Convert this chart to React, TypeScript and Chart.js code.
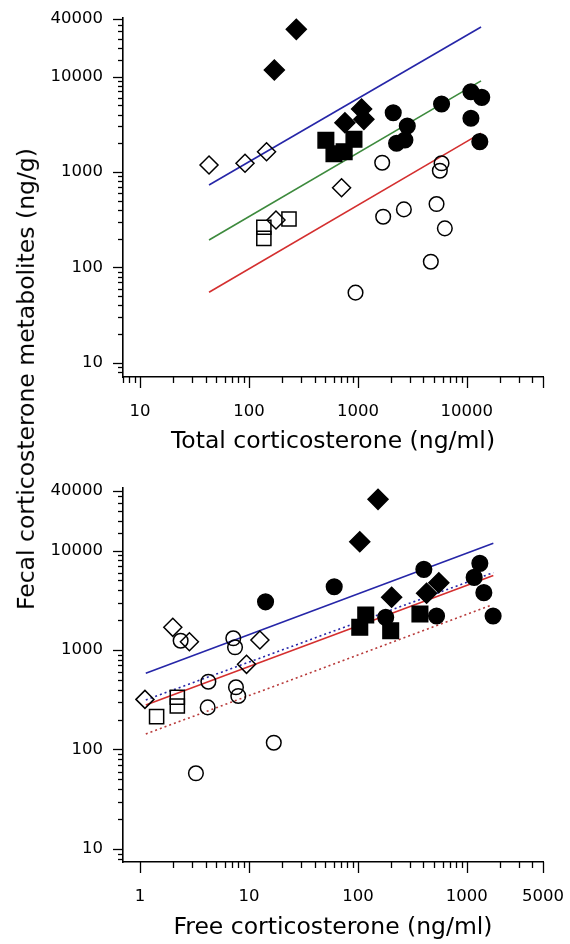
import React, { useEffect, useRef } from 'react';
import { Chart, registerables } from 'chart.js';

Chart.register(...registerables);

// ---------- Top panel: Total corticosterone ----------
const totalOpenDiamondX = [43, 92, 145, 177, 708];
const totalOpenDiamondY = [1184, 1233, 1632, 314, 685];
const totalOpenSquareX = [137, 137, 233];
const totalOpenSquareY = [264, 202, 322];
const totalOpenCircleX = [1671, 5860, 5650, 1706, 2643, 5270, 6280, 4670, 951];
const totalOpenCircleY = [1251, 1233, 1032, 340, 406, 462, 257, 115, 54.5];
const totalFilledDiamondX = [272, 171, 760, 1081, 1135];
const totalFilledDiamondY = [31200, 11700, 3280, 4570, 3560];
const totalFilledSquareX = [508, 603, 748, 920];
const totalFilledSquareY = [2150, 1550, 1633, 2200];
const totalFilledCircleX = [2110, 2840, 2265, 2700, 5860, 10900, 13700, 10900, 13150];
const totalFilledCircleY = [4180, 3030, 2000, 2163, 5150, 6930, 6050, 3650, 2080];
const totalLineX = [43, 13500];
const totalBlueY = [730, 33000];
const totalGreenY = [194, 9000];
const totalRedY = [55, 2550];

// ---------- Bottom panel: Free corticosterone ----------
const freeOpenDiamondX = [1.11, 2.0, 2.84, 12.6, 9.5];
const freeOpenDiamondY = [319, 1690, 1212, 1260, 718];
const freeOpenSquareX = [2.2, 2.2, 1.42];
const freeOpenSquareY = [335, 274, 214];
const freeOpenCircleX = [2.36, 7.18, 7.45, 4.24, 7.6, 7.98, 4.18, 16.9, 3.26];
const freeOpenCircleY = [1240, 1312, 1065, 480, 422, 345, 265, 117, 57.7];
const freeFilledDiamondX = [153, 104, 204, 427, 553];
const freeFilledDiamondY = [32700, 12250, 3390, 3720, 4740];
const freeFilledSquareX = [118, 104, 200, 371];
const freeFilledSquareY = [2250, 1690, 1563, 2300];
const freeFilledCircleX = [14.2, 60.6, 403, 180, 527, 1316, 1167, 1432, 1742];
const freeFilledCircleY = [3050, 4330, 6470, 2130, 2200, 7430, 5370, 3770, 2200];
const freeLineX = [1.13, 1750];
const freeBlueSolidY = [583, 11800];
const freeBlueDottedY = [315, 6000];
const freeRedSolidY = [280, 5600];
const freeRedDottedX = [1.13, 1650];
const freeRedDottedY = [143, 2800];

// ---------- Tick labels ----------
const totalXTickLabels = [10, 100, 1000, 10000];
const freeXTickLabels = [1, 10, 100, 1000, 5000];
const yTickLabels = [10, 100, 1000, 10000, 40000];

const FONT = "'DejaVu Sans', sans-serif";
const TICK_SIZE = 16.5;
const TITLE_SIZE = 23.5;

function decadeMinors(lo: number, hi: number): number[] {
  const out: number[] = [];
  for (let d = lo; d < hi; d *= 10) {
    for (let k = 2; k <= 9; k++) out.push(k * d);
  }
  return out;
}

const yMinor = [...decadeMinors(1, 10000), 15000, 20000, 25000, 30000, 35000];
const totalXMajor = [10, 100, 1000, 10000, 50000];
const totalXMinor = [...decadeMinors(1, 10000), 20000, 30000, 40000];
const freeXMajor = [1, 10, 100, 1000, 5000];
const freeXMinor = [...decadeMinors(1, 1000), 2000, 3000, 4000];

const pts = (xs: number[], ys: number[]) => xs.map((x, i) => ({ x, y: ys[i] }));

function markers(xs: number[], ys: number[], style: string, r: number, filled: boolean) {
  return {
    data: pts(xs, ys),
    pointStyle: style,
    pointRadius: r,
    pointBackgroundColor: filled ? '#000' : 'rgba(0,0,0,0)',
    pointBorderColor: '#000',
    pointBorderWidth: 1.5,
    showLine: false,
    order: 1,
  };
}

function line(xs: number[], ys: number[], color: string, dash: number[] = []) {
  return {
    data: pts(xs, ys),
    borderColor: color,
    borderWidth: 1.6,
    borderDash: dash,
    pointRadius: 0,
    showLine: true,
    fill: false,
    order: 2,
  };
}

const tickPlugin = {
  id: 'logTicks',
  afterDraw(chart: any, _args: any, opts: any) {
    const { ctx, chartArea, scales } = chart;
    const xs = scales.x;
    const ys = scales.y;
    ctx.save();
    ctx.strokeStyle = '#000';
    ctx.lineWidth = 1.3;
    const drawX = (vals: number[], len: number) => {
      for (const v of vals) {
        if (v < xs.min || v > xs.max) continue;
        const px = Math.round(xs.getPixelForValue(v)) + 0.5;
        ctx.beginPath();
        ctx.moveTo(px, chartArea.bottom);
        ctx.lineTo(px, chartArea.bottom + len);
        ctx.stroke();
      }
    };
    const drawY = (vals: number[], len: number) => {
      for (const v of vals) {
        if (v < ys.min || v > ys.max) continue;
        const py = Math.round(ys.getPixelForValue(v)) + 0.5;
        ctx.beginPath();
        ctx.moveTo(chartArea.left, py);
        ctx.lineTo(chartArea.left - len, py);
        ctx.stroke();
      }
    };
    drawX(opts.xMajor, 11);
    drawX(opts.xMinor, 6);
    drawY(opts.yMajor, 10);
    drawY(opts.yMinor, 5);
    ctx.restore();
  },
};

interface PanelCfg {
  datasets: any[];
  xMin: number;
  xMax: number;
  yMin: number;
  yMax: number;
  xLabels: number[];
  xMajor: number[];
  xMinor: number[];
  xTitle: string;
  padTop: number;
  xHeight: number;
  titlePadBottom: number;
}

function zeroPad(s: any) {
  s.paddingLeft = 0;
  s.paddingRight = 0;
  s.paddingTop = 0;
  s.paddingBottom = 0;
}

function buildConfig(p: PanelCfg): any {
  return {
    type: 'scatter',
    data: { datasets: p.datasets },
    plugins: [tickPlugin],
    options: {
      animation: false,
      responsive: false,
      events: [],
      layout: { padding: { top: p.padTop, right: 27, left: 0, bottom: 0 } },
      plugins: {
        legend: { display: false },
        tooltip: { enabled: false },
        logTicks: { xMajor: p.xMajor, xMinor: p.xMinor, yMajor: yTickLabels, yMinor: yMinor },
      },
      scales: {
        x: {
          type: 'logarithmic',
          position: 'bottom',
          min: p.xMin,
          max: p.xMax,
          border: { display: true, color: '#000', width: 1.6 },
          grid: { display: false, drawTicks: false, tickLength: 0 },
          ticks: {
            color: '#000',
            font: { family: FONT, size: TICK_SIZE },
            padding: 25,
            autoSkip: false,
            maxRotation: 0,
            callback: (v: any) => String(v),
          },
          afterBuildTicks: (s: any) => {
            s.ticks = p.xLabels.map((v) => ({ value: v }));
          },
          afterFit: (s: any) => {
            s.height = p.xHeight;
            zeroPad(s);
          },
          title: {
            display: true,
            text: p.xTitle,
            color: '#000',
            font: { family: FONT, size: TITLE_SIZE },
            padding: { top: 0, bottom: p.titlePadBottom },
          },
        },
        y: {
          type: 'logarithmic',
          position: 'left',
          min: p.yMin,
          max: p.yMax,
          border: { display: true, color: '#000', width: 1.6 },
          grid: { display: false, drawTicks: false, tickLength: 0 },
          ticks: {
            color: '#000',
            font: { family: FONT, size: TICK_SIZE },
            padding: 20,
            autoSkip: false,
            callback: (v: any) => String(v),
          },
          afterBuildTicks: (s: any) => {
            s.ticks = yTickLabels.map((v) => ({ value: v }));
          },
          afterFit: (s: any) => {
            s.width = 123;
            zeroPad(s);
          },
        },
      },
    },
  };
}

const BLUE = '#2626a8';
const GREEN = '#3d8a3d';
const RED = '#d42f2f';
const DARKRED = '#b83a3a';

export default function App() {
  const topRef = useRef<HTMLCanvasElement>(null);
  const botRef = useRef<HTMLCanvasElement>(null);

  useEffect(() => {
    const top = new Chart(
      topRef.current as HTMLCanvasElement,
      buildConfig({
        datasets: [
          markers(totalFilledCircleX, totalFilledCircleY, 'circle', 7.8, true),
          markers(totalFilledSquareX, totalFilledSquareY, 'rect', 11, true),
          markers(totalFilledDiamondX, totalFilledDiamondY, 'rectRot', 10, true),
          markers(totalOpenCircleX, totalOpenCircleY, 'circle', 7.3, false),
          markers(totalOpenSquareX, totalOpenSquareY, 'rect', 10, false),
          markers(totalOpenDiamondX, totalOpenDiamondY, 'rectRot', 9, false),
          line(totalLineX, totalBlueY, BLUE),
          line(totalLineX, totalGreenY, GREEN),
          line(totalLineX, totalRedY, RED),
        ],
        xMin: 6.98,
        xMax: 50000,
        yMin: 7.13,
        yMax: 41000,
        xLabels: totalXTickLabels,
        xMajor: totalXMajor,
        xMinor: totalXMinor,
        xTitle: 'Total corticosterone (ng/ml)',
        padTop: 18,
        xHeight: 95,
        titlePadBottom: 16,
      })
    );
    const bot = new Chart(
      botRef.current as HTMLCanvasElement,
      buildConfig({
        datasets: [
          markers(freeFilledCircleX, freeFilledCircleY, 'circle', 7.8, true),
          markers(freeFilledSquareX, freeFilledSquareY, 'rect', 11, true),
          markers(freeFilledDiamondX, freeFilledDiamondY, 'rectRot', 10, true),
          markers(freeOpenCircleX, freeOpenCircleY, 'circle', 7.3, false),
          markers(freeOpenSquareX, freeOpenSquareY, 'rect', 10, false),
          markers(freeOpenDiamondX, freeOpenDiamondY, 'rectRot', 9, false),
          line(freeLineX, freeBlueSolidY, BLUE),
          line(freeLineX, freeBlueDottedY, BLUE, [2, 3]),
          line(freeLineX, freeRedSolidY, RED),
          line(freeRedDottedX, freeRedDottedY, DARKRED, [2, 3]),
        ],
        xMin: 0.698,
        xMax: 5000,
        yMin: 7.4,
        yMax: 42500,
        xLabels: freeXTickLabels,
        xMajor: freeXMajor,
        xMinor: freeXMinor,
        xTitle: 'Free corticosterone (ng/ml)',
        padTop: 16,
        xHeight: 82,
        titlePadBottom: 2,
      })
    );
    return () => {
      top.destroy();
      bot.destroy();
    };
  }, []);

  return (
    <div style={{ position: 'absolute', left: 0, top: 0, width: 570, height: 944, background: '#fff', overflow: 'hidden' }}>
      <canvas ref={topRef} width={570} height={472} style={{ position: 'absolute', left: 0, top: 0, width: 570, height: 472 }} />
      <canvas ref={botRef} width={570} height={472} style={{ position: 'absolute', left: 0, top: 472, width: 570, height: 472 }} />
      <div
        style={{
          position: 'absolute',
          left: 26,
          top: 379,
          transform: 'translate(-50%, -50%) rotate(-90deg)',
          whiteSpace: 'nowrap',
          fontFamily: FONT,
          fontSize: TITLE_SIZE,
          lineHeight: 1.2,
          color: '#000',
        }}
      >
        Fecal corticosterone metabolites (ng/g)
      </div>
    </div>
  );
}
